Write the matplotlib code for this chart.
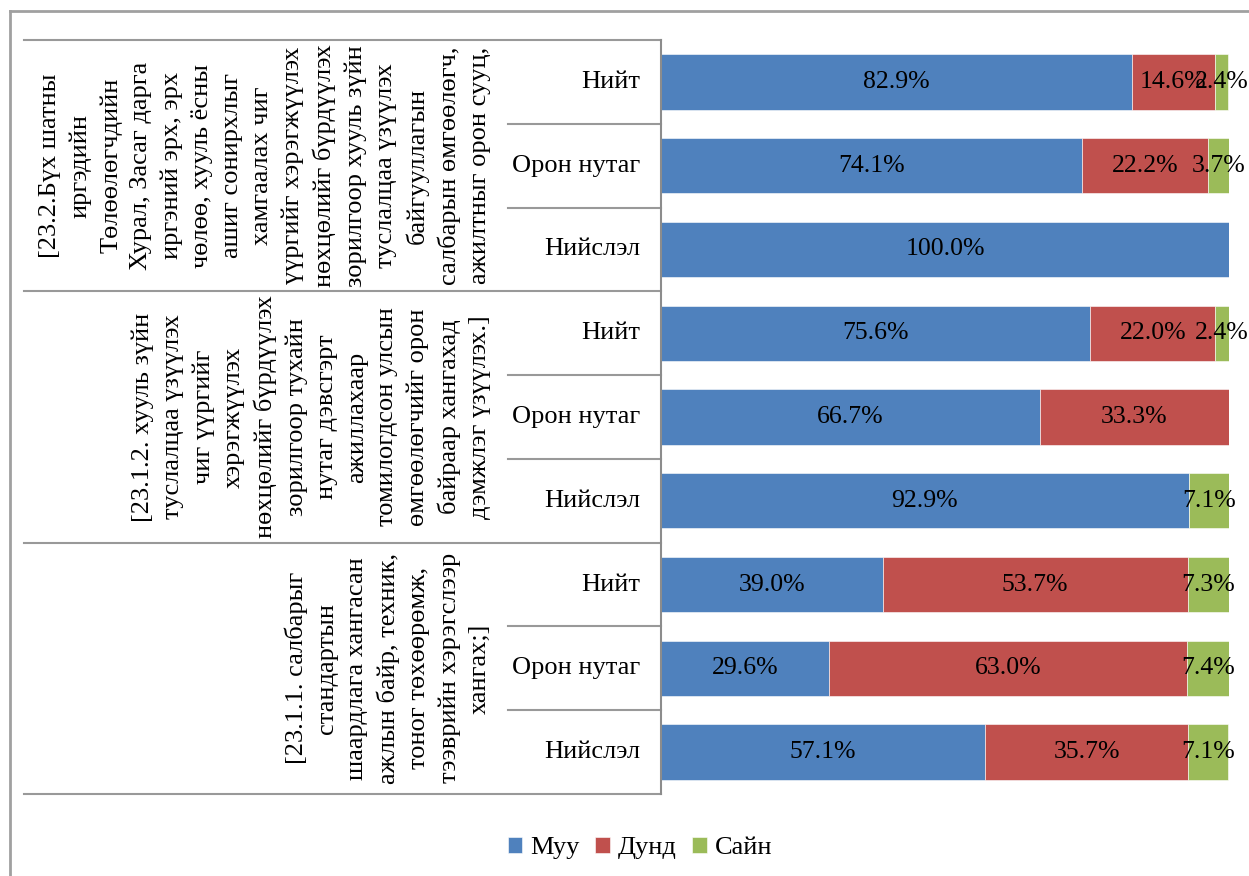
import matplotlib.pyplot as plt
from matplotlib.lines import Line2D

plt.rcParams['font.family'] = ['Liberation Serif', 'DejaVu Serif']

series = ['Муу', 'Дунд', 'Сайн']
colors = ['#4F81BD', '#C0504D', '#9BBB59']

categories = ['Нийт', 'Орон нутаг', 'Нийслэл'] * 3

groups = [
    "[23.2.Бүх шатны\nиргэдийн\nТөлөөлөгчдийн\nХурал, Засаг дарга\nиргэний эрх, эрх\n"
    "чөлөө, хууль ёсны\nашиг сонирхлыг\nхамгаалах чиг\nүүргийг хэрэгжүүлэх\n"
    "нөхцөлийг бүрдүүлэх\nзорилгоор хууль зүйн\nтуслалцаа үзүүлэх\nбайгууллагын\n"
    "салбарын өмгөөлөгч,\nажилтныг орон сууц,",
    "[23.1.2. хууль зүйн\nтуслалцаа үзүүлэх\nчиг үүргийг\nхэрэгжүүлэх\nнөхцөлийг бүрдүүлэх\n"
    "зорилгоор тухайн\nнутаг дэвсгэрт\nажиллахаар\nтомилогдсон улсын\n"
    "өмгөөлөгчийг орон\nбайраар хангахад\nдэмжлэг үзүүлэх.]",
    "[23.1.1. салбарыг\nстандартын\nшаардлага хангасан\nажлын байр, техник,\n"
    "тоног төхөөрөмж,\nтээврийн хэрэгслээр\nхангах;]",
]

muu = [82.9, 74.1, 100.0, 75.6, 66.7, 92.9, 39.0, 29.6, 57.1]
dund = [14.6, 22.2, 0.0, 22.0, 33.3, 0.0, 53.7, 63.0, 35.7]
sain = [2.4, 3.7, 0.0, 2.4, 0.0, 7.1, 7.3, 7.4, 7.1]

W, H = 1249, 876
fig = plt.figure(figsize=(W / 100, H / 100), dpi=100)
ax_l, ax_r, ax_t, ax_b = 661, 1229, 40, 794
ax = fig.add_axes([ax_l / W, 1 - ax_b / H, (ax_r - ax_l) / W, (ax_b - ax_t) / H])

fs = 19
fs_val = 18.5
y = list(range(len(categories)))
left = [0] * len(y)
for vals, name, c in zip([muu, dund, sain], series, colors):
    bars = ax.barh(y, vals, left=left, height=0.66, color=c, label=name,
                   edgecolor='white', linewidth=0.4)
    for b, v in zip(bars, vals):
        if v > 0:
            ax.text(b.get_x() + b.get_width() / 2, b.get_y() + b.get_height() / 2,
                    f'{v:.1f}%', ha='center', va='center', fontsize=fs_val, color='black')
    left = [a + b for a, b in zip(left, vals)]

ax.set_xlim(0, 100)
ax.set_ylim(8.5, -0.5)
ax.set_xticks([])
ax.set_yticks([])
for s in ['top', 'right', 'bottom']:
    ax.spines[s].set_visible(False)
ax.spines['left'].set_color('#8c8c8c')
ax.spines['left'].set_linewidth(1.5)

tr = ax.get_yaxis_transform()
span = ax_r - ax_l
x_far = (24 - ax_l) / span
x_cat = (508 - ax_l) / span
line_kw = dict(color='#999999', linewidth=1.5, transform=tr, clip_on=False)
for yy in [-0.5, 2.5, 5.5, 8.5]:
    ax.plot([x_far, 0], [yy, yy], **line_kw)
for yy in [0.5, 1.5, 3.5, 4.5, 6.5, 7.5]:
    ax.plot([x_cat, 0], [yy, yy], **line_kw)

for i, cat in enumerate(categories):
    ax.text((640 - ax_l) / span, i, cat, ha='right', va='center', fontsize=fs,
            transform=tr, clip_on=False)

for g, txt in enumerate(groups):
    ax.text((491 - ax_l) / span, 3 * g + 1, txt, rotation=90, ha='right', va='center',
            multialignment='center', fontsize=fs, linespacing=1.47,
            transform=tr, clip_on=False)

# outer chart border
fig.add_artist(Line2D([10 / W, 1], [1 - 11 / H, 1 - 11 / H], color='#a0a0a0', linewidth=2))
fig.add_artist(Line2D([10 / W, 10 / W], [1 - 11 / H, 0], color='#a0a0a0', linewidth=2))

fig.legend(loc='center', bbox_to_anchor=(640 / W, 1 - 848 / H), ncol=3, frameon=False,
           fontsize=fs, handlelength=0.55, handleheight=0.55, handletextpad=0.3,
           columnspacing=0.6)

fig.savefig('out.png', dpi=100)
